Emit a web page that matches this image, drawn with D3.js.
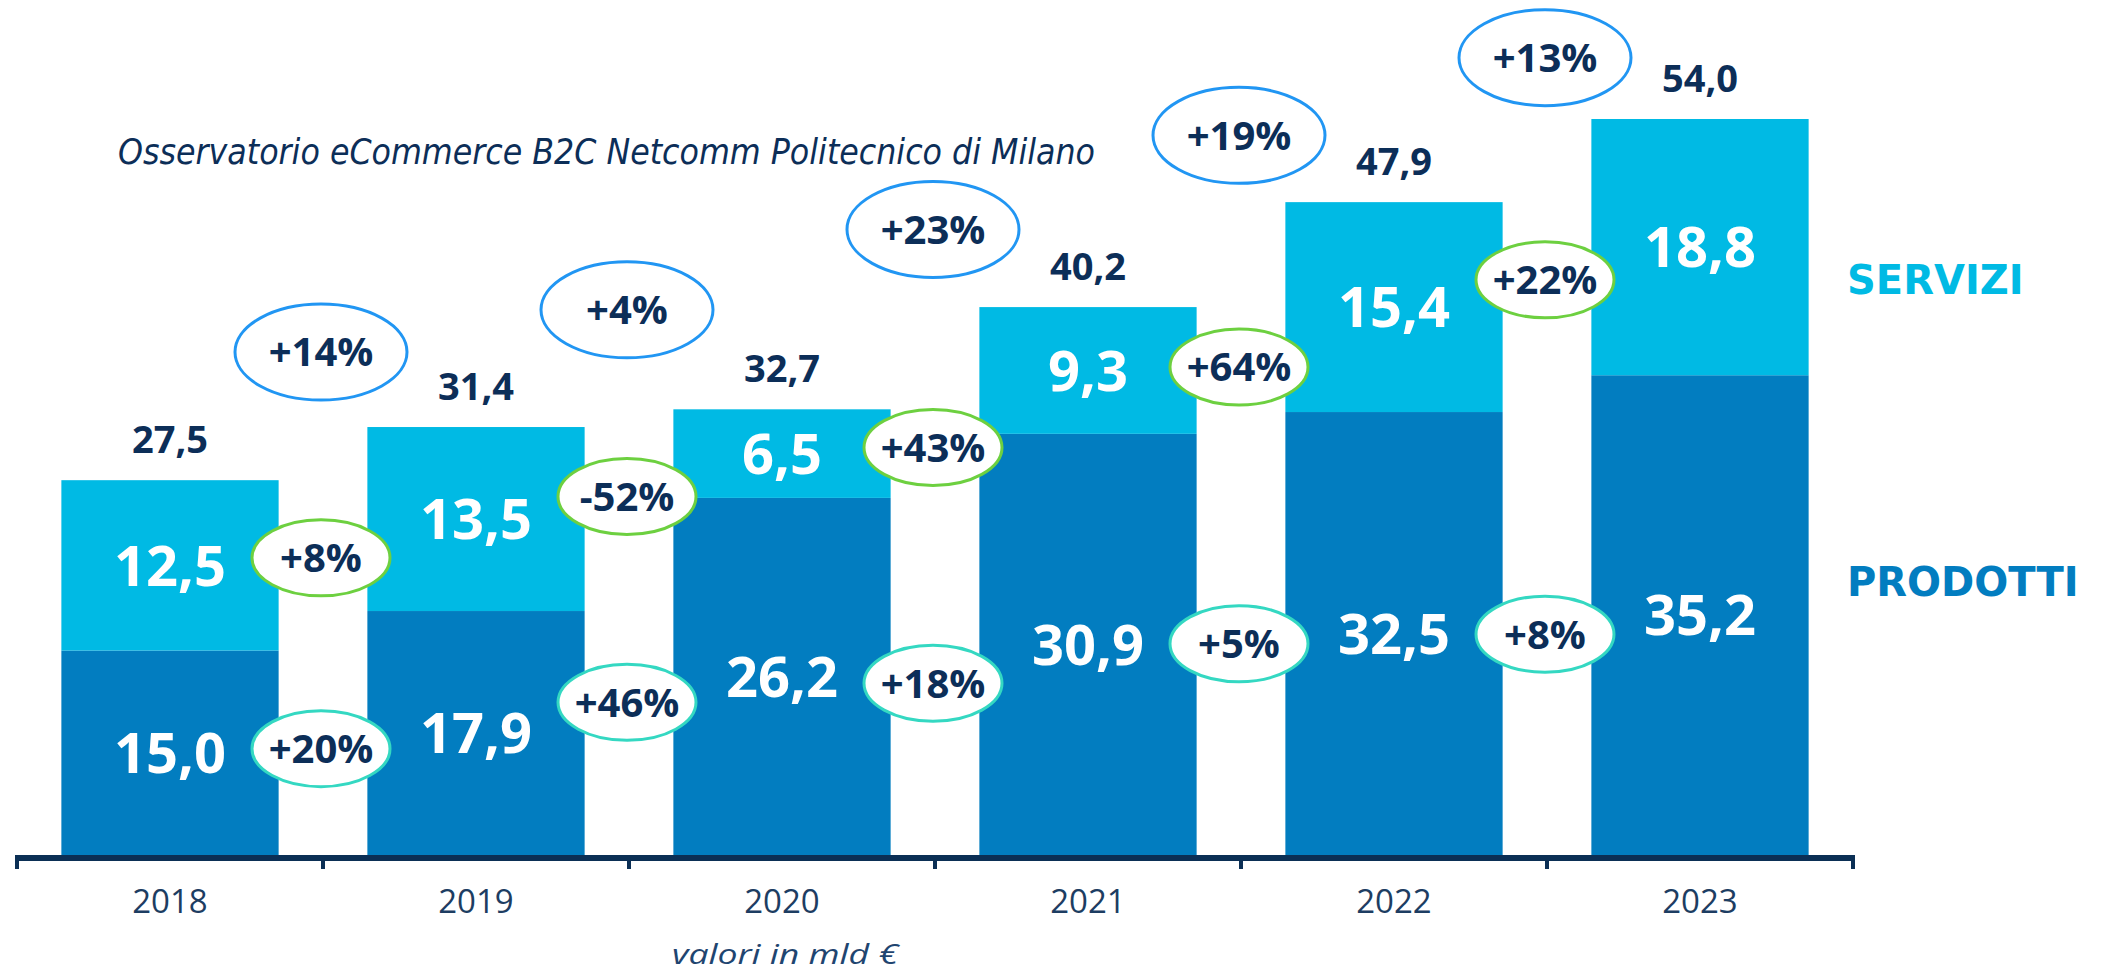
<!DOCTYPE html>
<html>
<head>
<meta charset="utf-8">
<script src="https://cdn.jsdelivr.net/npm/d3@7"></script>
<style>
  html, body { margin: 0; padding: 0; background: #ffffff; }
  svg { display: block; }
</style>
</head>
<body>
<svg id="chart" width="2106" height="979"></svg>
<script>
// ---------- DATA ----------
const years = ["2018", "2019", "2020", "2021", "2022", "2023"];
const prodotti = [15.0, 17.9, 26.2, 30.9, 32.5, 35.2];
const servizi = [12.5, 13.5, 6.5, 9.3, 15.4, 18.8];
const totals = [27.5, 31.4, 32.7, 40.2, 47.9, 54.0];
const totalGrowth = ["+14%", "+4%", "+23%", "+19%", "+13%"];
const serviziGrowth = ["+8%", "-52%", "+43%", "+64%", "+22%"];
const prodottiGrowth = ["+20%", "+46%", "+18%", "+5%", "+8%"];
const seriesNames = ["PRODOTTI", "SERVIZI"];
const sourceText = "Osservatorio eCommerce B2C Netcomm Politecnico di Milano";
const unitText = "valori in mld €";

// ---------- LAYOUT (annotation bubble heights, in value units) ----------
const totalBubbleLevel = [36.9, 40.0, 45.9, 52.8, 58.5];
const serviziBubbleLevel = [21.8, 26.3, 29.9, 35.8, 42.2];
const prodottiBubbleLevel = [7.8, 11.2, 12.6, 15.5, 16.2];

const C = {
  prod: "#027dc0",
  serv: "#00bae4",
  navy: "#0c2e58",
  axis: "#0b2f55",
  blue: "#2196f3",
  green: "#6dd040",
  teal: "#34d8c2"
};

const fmt = v => d3.format(".1f")(v).replace(".", ",");

const svg = d3.select("#chart");

const x = d3.scaleBand().domain(years).range([17, 1853]).paddingInner(0.29).paddingOuter(0.145);
const y = d3.scaleLinear().domain([0, 54]).range([855, 119]);
const step = x.step();
const x0 = x.range()[0];

const rows = years.map((yr, i) => ({ year: yr, prodotti: prodotti[i], servizi: servizi[i], total: totals[i] }));
const stack = d3.stack().keys(["prodotti", "servizi"])(rows);
const colors = { prodotti: C.prod, servizi: C.serv };

// bars
const layers = svg.append("g").selectAll("g").data(stack).join("g")
  .attr("fill", d => colors[d.key]);
layers.selectAll("rect").data(d => d).join("rect")
  .attr("x", d => x(d.data.year))
  .attr("width", x.bandwidth())
  .attr("y", d => y(d[1]))
  .attr("height", d => y(d[0]) - y(d[1]));

// inner value labels
layers.selectAll("text").data(d => d).join("text")
  .attr("x", d => x(d.data.year) + x.bandwidth() / 2)
  .attr("y", d => (y(d[0]) + y(d[1])) / 2)
  .attr("dy", "0.36em")
  .attr("text-anchor", "middle")
  .attr("fill", "#ffffff")
  .attr("font-family", "'Open Sans', sans-serif")
  .attr("font-weight", 700)
  .attr("font-size", 56)
  .text(d => fmt(d[1] - d[0]));

// total labels
svg.append("g").selectAll("text").data(rows).join("text")
  .attr("x", d => x(d.year) + x.bandwidth() / 2)
  .attr("y", d => y(d.total) - 27)
  .attr("text-anchor", "middle")
  .attr("fill", C.navy)
  .attr("font-family", "'Open Sans', sans-serif")
  .attr("font-weight", 700)
  .attr("font-size", 38)
  .text(d => fmt(d.total));

// axis
const axisG = svg.append("g");
axisG.append("line")
  .attr("x1", x0 - 2).attr("x2", x.range()[1] + 2)
  .attr("y1", y(0) + 3).attr("y2", y(0) + 3)
  .attr("stroke", C.axis).attr("stroke-width", 6);
axisG.selectAll("line.tick").data(d3.range(years.length + 1)).join("line")
  .attr("class", "tick")
  .attr("x1", i => x0 + i * step).attr("x2", i => x0 + i * step)
  .attr("y1", y(0)).attr("y2", y(0) + 14)
  .attr("stroke", C.axis).attr("stroke-width", 4);
axisG.selectAll("text").data(years).join("text")
  .attr("x", d => x(d) + x.bandwidth() / 2)
  .attr("y", 913)
  .attr("text-anchor", "middle")
  .attr("fill", "#1d3d62")
  .attr("font-family", "'Open Sans', sans-serif")
  .attr("font-weight", 400)
  .attr("font-size", 33)
  .text(d => d);

// growth bubbles
function bubbles(labels, levels, stroke, rx, ry, fs) {
  const g = svg.append("g").selectAll("g").data(labels).join("g")
    .attr("transform", (d, i) => `translate(${x0 + (i + 1) * step - 2},${y(levels[i])})`);
  g.append("ellipse")
    .attr("rx", rx).attr("ry", ry)
    .attr("fill", "#ffffff")
    .attr("stroke", stroke).attr("stroke-width", 3);
  g.append("text")
    .attr("text-anchor", "middle")
    .attr("dy", "0.36em")
    .attr("fill", C.navy)
    .attr("font-family", "'Open Sans', sans-serif")
    .attr("font-weight", 700)
    .attr("font-size", fs)
    .text(d => d);
}
bubbles(totalGrowth, totalBubbleLevel, C.blue, 86, 48, 40);
bubbles(serviziGrowth, serviziBubbleLevel, C.green, 69, 38, 40);
bubbles(prodottiGrowth, prodottiBubbleLevel, C.teal, 69, 38, 40);

// legend
svg.append("text")
  .attr("x", 1847).attr("y", 294)
  .attr("fill", C.serv)
  .attr("font-family", "'DejaVu Sans', Verdana, sans-serif")
  .attr("font-weight", 700)
  .attr("font-size", 40)
  .text(seriesNames[1]);
svg.append("text")
  .attr("x", 1847).attr("y", 596)
  .attr("fill", C.prod)
  .attr("font-family", "'DejaVu Sans', Verdana, sans-serif")
  .attr("font-weight", 700)
  .attr("font-size", 40)
  .text(seriesNames[0]);

// source
svg.append("text")
  .attr("x", 118).attr("y", 164)
  .attr("fill", C.navy)
  .attr("font-family", "'DejaVu Sans', Verdana, sans-serif")
  .attr("font-style", "italic")
  .attr("font-size", 35)
  .attr("textLength", 977)
  .attr("lengthAdjust", "spacingAndGlyphs")
  .text(sourceText);

// unit note
svg.append("text")
  .attr("x", 672).attr("y", 964)
  .attr("fill", "#1f4570")
  .attr("font-family", "'Open Sans', sans-serif")
  .attr("font-style", "italic")
  .attr("font-weight", 400)
  .attr("font-size", 28)
  .attr("textLength", 226)
  .attr("lengthAdjust", "spacingAndGlyphs")
  .text(unitText);
</script>
</body>
</html>
